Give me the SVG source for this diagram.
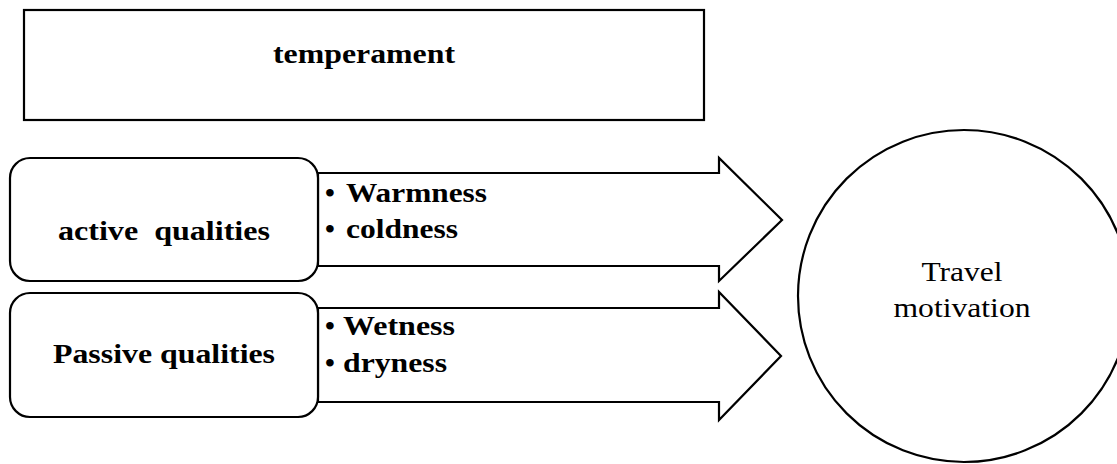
<svg xmlns="http://www.w3.org/2000/svg" width="1117" height="464" viewBox="0 0 1117 464">
<style>
.shape{fill:#fff;stroke:#000;stroke-width:2.2}
.b{font-family:"Liberation Serif","Times New Roman",serif;font-weight:bold;font-size:28px;fill:#000}
.r{font-family:"Liberation Serif","Times New Roman",serif;font-size:28px;fill:#000}
</style>
<rect width="1117" height="464" fill="#fff"/>
<g id="connectors">
<path class="shape" d="M318,173 L719,173 L719,158 L782,220 L719,281 L719,266 L318,266 Z"/>
<path class="shape" d="M318,308 L719,308 L719,292 L781,356 L719,420 L719,402 L318,402 Z"/>
<text class="b" x="325" y="202">•</text>
<text class="b" x="346" y="202" textLength="141" lengthAdjust="spacingAndGlyphs">Warmness</text>
<text class="b" x="325" y="238">•</text>
<text class="b" x="346" y="238" textLength="112" lengthAdjust="spacingAndGlyphs">coldness</text>
<text class="b" x="325" y="335">•</text>
<text class="b" x="343" y="335" textLength="112" lengthAdjust="spacingAndGlyphs">Wetness</text>
<text class="b" x="325" y="372">•</text>
<text class="b" x="343" y="372" textLength="104" lengthAdjust="spacingAndGlyphs">dryness</text>
</g>
<g id="temperament">
<rect class="shape" x="24" y="10" width="680" height="110"/>
<text class="b" x="273" y="63" textLength="182" lengthAdjust="spacingAndGlyphs">temperament</text>
</g>
<g id="active">
<rect class="shape" x="10" y="158" width="308" height="123" rx="20"/>
<text class="b" x="58" y="240" textLength="212" lengthAdjust="spacingAndGlyphs" xml:space="preserve">active  qualities</text>
</g>
<g id="passive">
<rect class="shape" x="10" y="293" width="308" height="124" rx="20"/>
<text class="b" x="53" y="363" textLength="222" lengthAdjust="spacingAndGlyphs">Passive qualities</text>
</g>
<g id="travel">
<circle class="shape" cx="964" cy="296" r="166"/>
<text class="r" x="962" y="281" text-anchor="middle" textLength="81" lengthAdjust="spacingAndGlyphs">Travel</text>
<text class="r" x="962" y="317" text-anchor="middle" textLength="137" lengthAdjust="spacingAndGlyphs">motivation</text>
</g>
</svg>
